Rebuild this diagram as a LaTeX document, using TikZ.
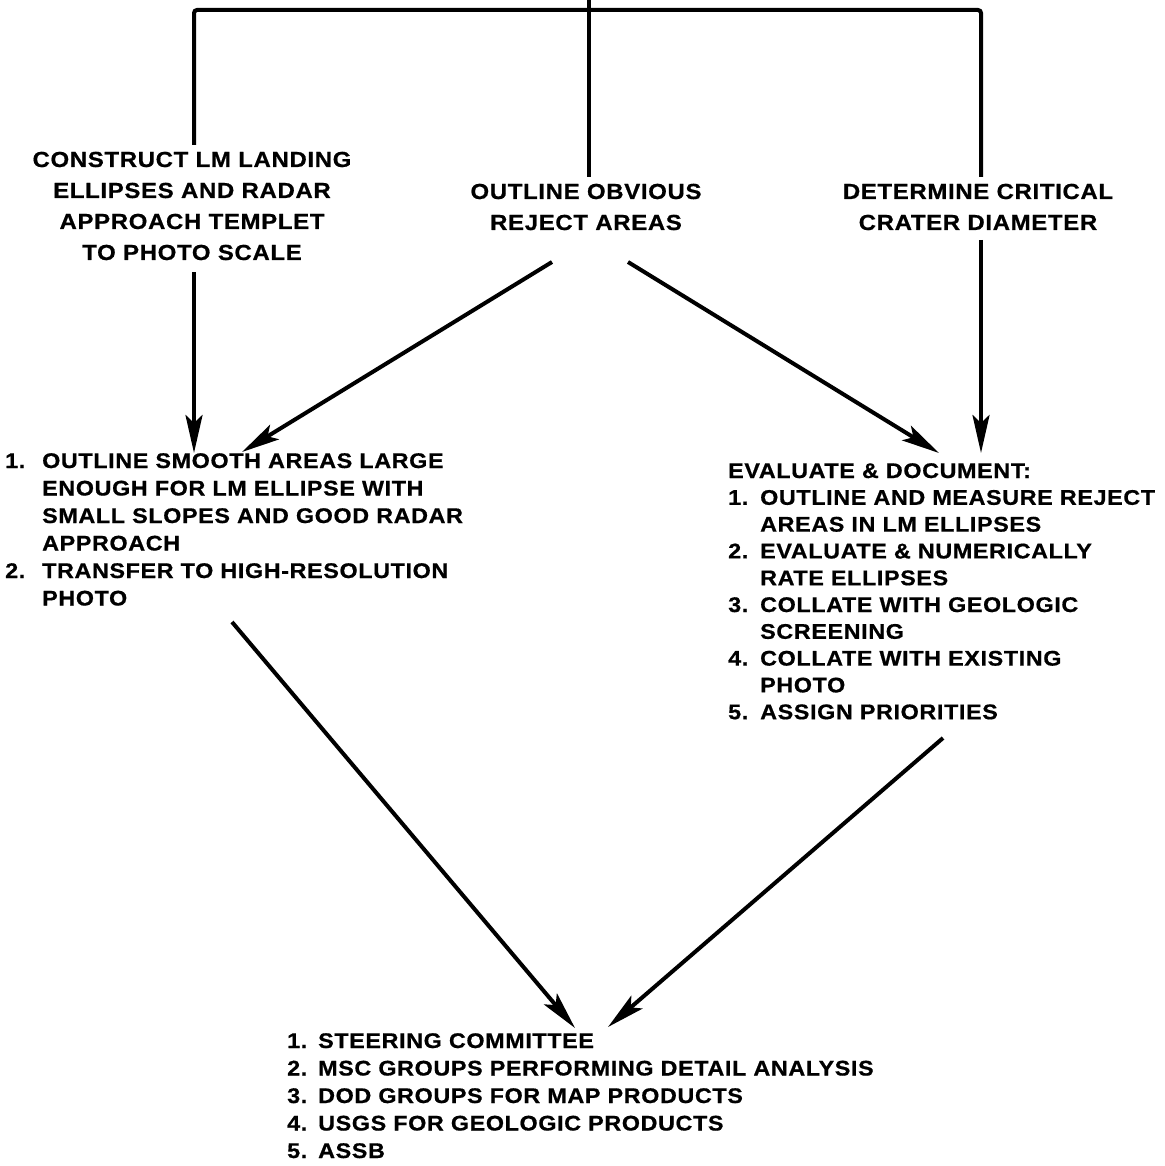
\documentclass[tikz,border=0pt]{standalone}
\usepackage{fontspec}
\setmainfont{Liberation Sans}[FakeStretch=1.1,LetterSpace=3,BoldFeatures={FakeBold=0.7}]
\usetikzlibrary{arrows.meta}
\newcommand\lnum[2]{\makebox[#1][l]{#2}}
\begin{document}
\begin{tikzpicture}[x=1pt,y=-1pt,
  conn/.style={line width=4pt},
  arr/.style={line width=4pt,-{Stealth[length=38pt,width=17pt,inset=8pt]}},
  hdr/.style={inner sep=0pt,anchor=base,font=\fontsize{21.8}{31}\selectfont\bfseries},
  lst/.style={inner sep=0pt,anchor=base west,font=\fontsize{21.2}{27.5}\selectfont\bfseries}]
\useasboundingbox (0,0) rectangle (1164,1166);

% header texts
\node[hdr] (construct) at (192,167) {\begin{tabular}[t]{@{}c@{}}CONSTRUCT LM LANDING\\ELLIPSES AND RADAR\\APPROACH TEMPLET\\TO PHOTO SCALE\end{tabular}};
\node[hdr] (obvious) at (586,199) {\begin{tabular}[t]{@{}c@{}}OUTLINE OBVIOUS\\REJECT AREAS\end{tabular}};
\node[hdr] (critical) at (978,199) {\begin{tabular}[t]{@{}c@{}}DETERMINE CRITICAL\\CRATER DIAMETER\end{tabular}};

% left list
\node[lst] (smooth) at (5,468) {\begin{tabular}[t]{@{}l@{}l@{}}
\lnum{37pt}{1.} & OUTLINE SMOOTH AREAS LARGE\\
 & ENOUGH FOR LM ELLIPSE WITH\\
 & SMALL SLOPES AND GOOD RADAR\\
 & APPROACH\\
\lnum{37pt}{2.} & TRANSFER TO HIGH-RESOLUTION\\
 & PHOTO\end{tabular}};

% right list
\node[lst] (evaluate) at (728,478) {\fontsize{21.2}{26.8}\selectfont\begin{tabular}[t]{@{}l@{}l@{}}
\multicolumn{2}{@{}l@{}}{EVALUATE \& DOCUMENT:}\\
\lnum{32pt}{1.} & OUTLINE AND MEASURE REJECT\\
 & AREAS IN LM ELLIPSES\\
\lnum{32pt}{2.} & EVALUATE \& NUMERICALLY\\
 & RATE ELLIPSES\\
\lnum{32pt}{3.} & COLLATE WITH GEOLOGIC\\
 & SCREENING\\
\lnum{32pt}{4.} & COLLATE WITH EXISTING\\
 & PHOTO\\
\lnum{32pt}{5.} & ASSIGN PRIORITIES\end{tabular}};

% bottom list
\node[lst] (steering) at (287,1048) {\begin{tabular}[t]{@{}l@{}l@{}}
\lnum{31pt}{1.} & STEERING COMMITTEE\\
\lnum{31pt}{2.} & MSC GROUPS PERFORMING DETAIL ANALYSIS\\
\lnum{31pt}{3.} & DOD GROUPS FOR MAP PRODUCTS\\
\lnum{31pt}{4.} & USGS FOR GEOLOGIC PRODUCTS\\
\lnum{31pt}{5.} & ASSB\end{tabular}};

% connector end points
\coordinate (topc) at (589,0);
\coordinate (bar) at (589,10);
\coordinate (cbot) at (589,177);
\coordinate (ltop) at (194,145);
\coordinate (rtop) at (981,177);
\coordinate (l1s) at (194,272);
\coordinate (l1e) at (194,453);
\coordinate (d1s) at (552,262);
\coordinate (d1e) at (242,452);
\coordinate (d2s) at (628,262);
\coordinate (d2e) at (939,453);
\coordinate (r1s) at (981,240);
\coordinate (r1e) at (981,453);
\coordinate (b1s) at (232,622);
\coordinate (b1e) at (575,1028);
\coordinate (b2s) at (943,738);
\coordinate (b2e) at (608,1027);

% top tree
\draw[conn,rounded corners=3pt] (ltop) |- (bar) -| (rtop);
\draw[conn] (topc) -- (cbot);

% arrows
\draw[arr] (l1s) -- (l1e);
\draw[arr] (d1s) -- (d1e);
\draw[arr] (d2s) -- (d2e);
\draw[arr] (r1s) -- (r1e);
\draw[arr] (b1s) -- (b1e);
\draw[arr] (b2s) -- (b2e);
\end{tikzpicture}
\end{document}
